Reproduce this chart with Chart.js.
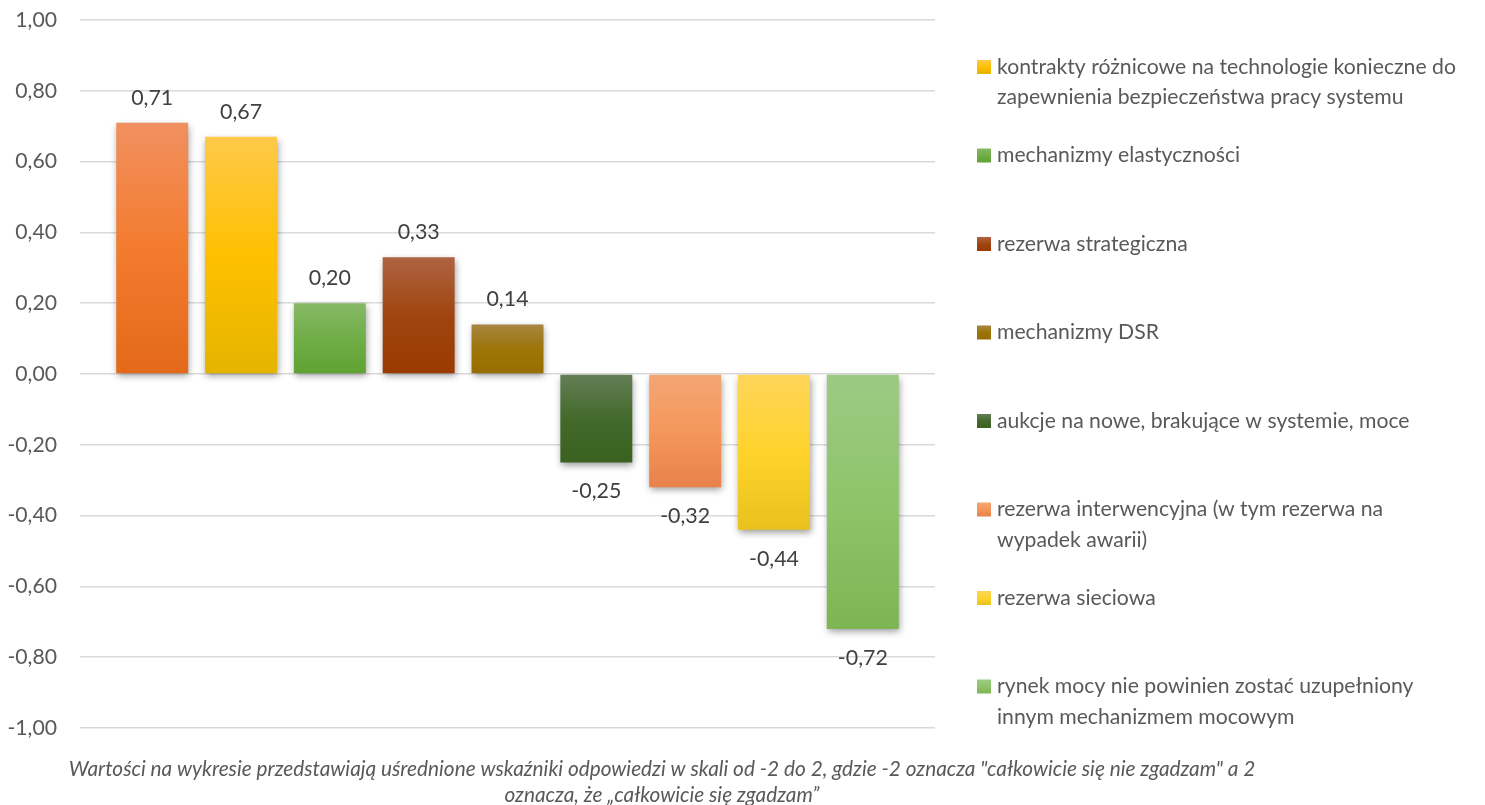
<!DOCTYPE html>
<html lang="pl">
<head>
<meta charset="utf-8">
<title>Mechanizmy mocowe</title>
<script src="https://cdn.jsdelivr.net/npm/chart.js@4/dist/chart.umd.min.js"></script>
<style>
  html, body { margin: 0; padding: 0; background: #ffffff; }
  #wrap { width: 1485px; height: 805px; }
</style>
</head>
<body>
<div id="wrap"><canvas id="mechChart" width="1485" height="805"></canvas></div>
<script>
// one bar per series, single category
const seriesNames = [
    null,
    ['kontrakty różnicowe na technologie konieczne do', 'zapewnienia bezpieczeństwa pracy systemu'],
    ['mechanizmy elastyczności'],
    ['rezerwa strategiczna'],
    ['mechanizmy DSR'],
    ['aukcje na nowe, brakujące w systemie, moce'],
    ['rezerwa interwencyjna (w tym rezerwa na', 'wypadek awarii)'],
    ['rezerwa sieciowa'],
    ['rynek mocy nie powinien zostać uzupełniony', 'innym mechanizmem mocowym']
];
const scores = [0.71, 0.67, 0.20, 0.33, 0.14, -0.25, -0.32, -0.44, -0.72];
const yTicks = [-1, -0.8, -0.6, -0.4, -0.2, 0, 0.2, 0.4, 0.6, 0.8, 1];
const footnoteLines = [
    'Wartości na wykresie przedstawiają uśrednione wskaźniki odpowiedzi w skali od -2 do 2, gdzie -2 oznacza "całkowicie się nie zgadzam" a 2',
    'oznacza, że „całkowicie się zgadzam”'
];

// gradient stops per bar: top, middle, bottom
const barShades = [
    ['#f19060', '#f37b2e', '#e4691a'],
    ['#fec94a', '#ffc000', '#e4b400'],
    ['#87b966', '#70ad47', '#5fa232'],
    ['#ae6342', '#a04510', '#9a3a00'],
    ['#a98642', '#9c7408', '#966e00'],
    ['#647e56', '#436a2b', '#3b6120'],
    ['#f4a675', '#f4975b', '#e8824a'],
    ['#ffd55a', '#ffd32c', '#e9c11c'],
    ['#9cca84', '#8fc46a', '#7eb553']
];

const FONT = 'Lato, "Open Sans", sans-serif';
const fmt = v => (Math.abs(v) < 1e-9 ? 0 : v).toFixed(2).replace('.', ',');

function barFill(ctx, i) {
    const chart = ctx.chart;
    const shades = barShades[i];
    if (!chart.chartArea || !chart.scales.y) return shades[1];
    const y = chart.scales.y;
    const a = y.getPixelForValue(0);
    const b = y.getPixelForValue(scores[i]);
    const top = Math.min(a, b), bottom = Math.max(a, b);
    if (bottom - top < 1) return shades[1];
    const g = chart.ctx.createLinearGradient(0, top, 0, bottom);
    g.addColorStop(0, shades[0]);
    g.addColorStop(0.5, shades[1]);
    g.addColorStop(1, shades[2]);
    return g;
}

const datasets = scores.map((v, i) => ({
    label: seriesNames[i] ? seriesNames[i].join(' ') : '',
    data: [v],
    backgroundColor: ctx => barFill(ctx, i),
    borderWidth: 0
}));

// soft drop shadow under the bars
const barShadow = {
    id: 'barShadow',
    beforeDatasetsDraw(chart) {
        const c = chart.ctx;
        c.save();
        c.shadowColor = 'rgba(0, 0, 0, 0.4)';
        c.shadowBlur = 7;
        c.shadowOffsetX = 1;
        c.shadowOffsetY = 3;
    },
    afterDatasetsDraw(chart) {
        chart.ctx.restore();
    }
};

// value above / below each bar
const valueLabels = {
    id: 'valueLabels',
    afterDatasetsDraw(chart) {
        const c = chart.ctx;
        c.save();
        c.font = '21.4px ' + FONT;
        c.fillStyle = '#404040';
        c.textAlign = 'center';
        c.textBaseline = 'middle';
        chart.data.datasets.forEach((ds, i) => {
            const el = chart.getDatasetMeta(i).data[0];
            const v = ds.data[0];
            c.fillText(fmt(v), el.x, v >= 0 ? el.y - 25 : el.y + 29);
        });
        c.restore();
    }
};

// legend on the right with wrapped names, and the note underneath
const sideLegend = {
    id: 'sideLegend',
    afterDraw(chart) {
        const c = chart.ctx;
        c.save();
        c.font = '21.2px ' + FONT;
        c.textBaseline = 'middle';
        c.textAlign = 'left';
        let row = 0;
        seriesNames.forEach((lines, i) => {
            if (!lines) return;
            const y0 = 67 + row * 88.5;
            const sq = c.createLinearGradient(0, y0 - 7, 0, y0 + 7);
            sq.addColorStop(0, barShades[i][0]);
            sq.addColorStop(0.5, barShades[i][1]);
            sq.addColorStop(1, barShades[i][2]);
            c.fillStyle = sq;
            c.fillRect(977, y0 - 7, 14, 14);
            c.fillStyle = '#595959';
            lines.forEach((t, k) => c.fillText(t, 997, y0 + k * 30.5));
            row++;
        });

        c.font = 'italic 20.8px ' + FONT;
        c.textAlign = 'center';
        c.fillStyle = '#595959';
        footnoteLines.forEach((t, k) => c.fillText(t, 662, 769 + k * 26));
        c.restore();
    }
};

new Chart(document.getElementById('mechChart'), {
    type: 'bar',
    data: { labels: [''], datasets },
    options: {
        responsive: false,
        animation: false,
        datasets: {
            bar: { categoryPercentage: 0.935, barPercentage: 0.81 }
        },
        layout: { padding: { left: 6, right: 550, top: 20, bottom: 77 } },
        plugins: {
            legend: { display: false },
            tooltip: { enabled: false }
        },
        scales: {
            x: { display: false },
            y: {
                min: -1,
                max: 1,
                afterBuildTicks: axis => { axis.ticks = yTicks.map(v => ({ value: v })); },
                afterFit: axis => { axis.width = 74; },
                ticks: {
                    callback: v => fmt(v),
                    color: '#595959',
                    font: { family: FONT, size: 21.2 },
                    padding: 0
                },
                // invisible tick marks keep the labels clear of the grid
                grid: {
                    color: '#d9d9d9',
                    lineWidth: 1.5,
                    drawTicks: true,
                    tickLength: 23,
                    tickColor: 'rgba(0,0,0,0)'
                },
                border: { display: false }
            }
        }
    },
    plugins: [barShadow, valueLabels, sideLegend]
});
</script>
</body>
</html>
